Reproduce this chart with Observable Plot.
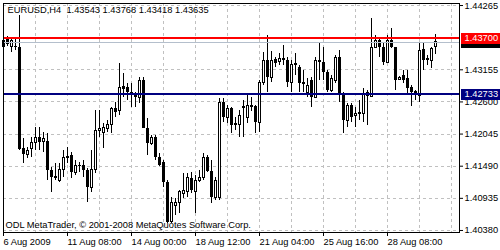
<!DOCTYPE html>
<html>
<head>
<meta charset="utf-8">
<script src="https://cdn.jsdelivr.net/npm/d3@7"></script>
<script src="https://cdn.jsdelivr.net/npm/@observablehq/plot@0.6"></script>
<style>
  html, body { margin: 0; padding: 0; background: #ffffff; }
  #chart { width: 500px; height: 250px; }
</style>
</head>
<body>
<div id="chart"></div>
<script>
// ---- data (EURUSD, H4) ----
const symbolText = "EURUSD,H4";
const lastBar = [1.43543, 1.43768, 1.43418, 1.43635]; // O H L C shown in header
const opens = [
  1.43557,1.43678,1.43557,1.43557,1.43539,1.41795,1.41675,1.41795,1.41899,1.41985,
  1.41916,1.41916,1.41416,1.41312,1.41243,1.41416,1.41640,1.41675,1.41381,1.41485,
  1.41502,1.41416,1.41122,1.41416,1.42106,1.42072,1.42141,1.42193,1.42486,1.42452,
  1.42866,1.42849,1.42762,1.42728,1.42676,1.42970,1.42141,1.41882,1.41985,1.41640,
  1.41554,1.41208,1.40518,1.40811,1.40846,1.41018,1.41036,1.41278,1.41036,1.41243,
  1.41278,1.41640,1.41398,1.40949,1.40949,1.42590,1.42331,1.42486,1.42227,1.42193,
  1.42521,1.42331,1.42538,1.42521,1.42244,1.42935,1.43315,1.43021,1.43332,1.43298,
  1.43350,1.43315,1.42935,1.43263,1.43194,1.42935,1.42762,1.42970,1.42676,1.43315,
  1.43280,1.43108,1.42797,1.42970,1.43367,1.42745,1.42279,1.42538,1.42365,1.42417,
  1.42400,1.42762,1.42693,1.43539,1.43660,1.43539,1.43280,1.43660,1.43539,1.42987,
  1.43056,1.43004,1.42849,1.42780,1.42711,1.43505,1.43350,1.43315,1.43543
];
const highs = [
  1.43712,1.43729,1.43712,1.43695,1.44092,1.41968,1.41813,1.41985,1.42158,1.42158,
  1.42072,1.42055,1.41467,1.41536,1.41536,1.41761,1.41813,1.41726,1.41588,1.41554,
  1.41588,1.41450,1.41761,1.42452,1.42452,1.42227,1.42279,1.42503,1.42590,1.43263,
  1.43090,1.42918,1.42918,1.42762,1.43021,1.43021,1.42313,1.42020,1.42020,1.41709,
  1.41588,1.41243,1.40949,1.40932,1.41070,1.41364,1.41364,1.41381,1.41329,1.41416,
  1.41709,1.41675,1.41588,1.41295,1.42659,1.42659,1.42538,1.42503,1.42331,1.42452,
  1.42624,1.42711,1.42676,1.42538,1.42970,1.43453,1.43747,1.43470,1.43367,1.43436,
  1.43574,1.43367,1.43315,1.43436,1.43229,1.43142,1.43004,1.43021,1.43367,1.43609,
  1.43539,1.43142,1.43056,1.43401,1.43488,1.42762,1.42572,1.42572,1.42503,1.42624,
  1.42832,1.42797,1.44040,1.43747,1.43712,1.43609,1.43747,1.43868,1.43539,1.43039,
  1.43142,1.43142,1.42883,1.42797,1.43626,1.43626,1.43401,1.43539,1.43768
];
const lows = [
  1.43367,1.43557,1.43453,1.43488,1.41761,1.41536,1.41623,1.41640,1.41761,1.41761,
  1.41726,1.41243,1.41036,1.41243,1.41208,1.41295,1.41536,1.41278,1.41329,1.41381,
  1.41295,1.40863,1.41036,1.41364,1.41985,1.41795,1.42072,1.42055,1.42331,1.42365,
  1.42676,1.42624,1.42503,1.42503,1.42572,1.42141,1.41675,1.41847,1.41588,1.41485,
  1.41122,1.40500,1.40500,1.40639,1.40673,1.40932,1.40949,1.41018,1.40673,1.41208,
  1.41243,1.41381,1.40846,1.40898,1.40898,1.42244,1.42227,1.42055,1.42106,1.41985,
  1.41985,1.42227,1.42434,1.42055,1.42072,1.42883,1.42762,1.42935,1.43194,1.43229,
  1.43229,1.42849,1.42762,1.43056,1.42762,1.42762,1.42676,1.42503,1.42676,1.42970,
  1.42970,1.42762,1.42762,1.42918,1.42590,1.42055,1.42158,1.42244,1.42158,1.42279,
  1.42244,1.42193,1.42676,1.43522,1.43367,1.43229,1.43263,1.43522,1.42797,1.42970,
  1.42918,1.42745,1.42521,1.42624,1.42590,1.43142,1.43229,1.43177,1.43418
];
const closes = [
  1.43660,1.43591,1.43660,1.43539,1.41778,1.41692,1.41761,1.41899,1.41985,1.41899,
  1.41968,1.41416,1.41295,1.41278,1.41416,1.41640,1.41657,1.41381,1.41502,1.41502,
  1.41416,1.41122,1.41416,1.42106,1.42141,1.42158,1.42193,1.42486,1.42417,1.42849,
  1.42814,1.42762,1.42711,1.42676,1.42970,1.42141,1.41882,1.41985,1.41640,1.41502,
  1.41208,1.40518,1.40863,1.40863,1.41036,1.41070,1.41278,1.41070,1.41243,1.41278,
  1.41640,1.41398,1.40949,1.41243,1.42590,1.42331,1.42486,1.42193,1.42193,1.42365,
  1.42486,1.42538,1.42503,1.42244,1.42935,1.43315,1.43021,1.43315,1.43263,1.43350,
  1.43315,1.42935,1.43246,1.43229,1.42918,1.42901,1.42883,1.42676,1.43315,1.43280,
  1.43108,1.42797,1.43004,1.43367,1.42745,1.42279,1.42538,1.42331,1.42400,1.42383,
  1.42745,1.42693,1.43539,1.43660,1.43539,1.43280,1.43660,1.43539,1.42970,1.43021,
  1.42970,1.42832,1.42762,1.42711,1.43488,1.43315,1.43315,1.43522,1.43635
];
const timeTickBars = [0, 16, 32, 48, 64, 80, 96];
const timeTickLabels = ["6 Aug 2009", "11 Aug 08:00", "14 Aug 00:00", "18 Aug 12:00", "21 Aug 04:00", "25 Aug 16:00", "28 Aug 08:00"];
const priceTicks = [1.44265, 1.43155, 1.42600, 1.42045, 1.41490, 1.40935, 1.40380];
const priceGrid = [1.44265, 1.43710, 1.43155, 1.42600, 1.42045, 1.41490, 1.40935, 1.40380];
const timeGridBars = [8, 16, 24, 32, 40, 48, 56, 64, 72, 80, 88, 96, 104, 112];
const redLevel = 1.43700;
const blueLevel = 1.42733;
const bidPrice = 1.43635;
const copyright = "ODL MetaTrader, \u00a9 2001-2008 MetaQuotes Software Corp.";

// ---- build table ----
const bars = opens.map((o, i) => ({i, open: o, high: highs[i], low: lows[i], close: closes[i]}));
const upBars = bars.filter(d => d.close >= d.open);
const downBars = bars.filter(d => d.close < d.open);
const header = symbolText + "\u00a0\u00a0" + lastBar.map(v => v.toFixed(5)).join(" ");
const crisp = {shapeRendering: "crispEdges"};

const chart = Plot.plot({
  width: 500,
  height: 250,
  marginLeft: 3,
  marginRight: 41,
  marginTop: 3,
  marginBottom: 18,
  style: {fontFamily: "'Liberation Sans', Arial, sans-serif", fontSize: "9.3px", color: "black", background: "white"},
  x: {domain: [0, 114], axis: null, label: null},
  y: {domain: [1.40345, 1.44300], axis: null, label: null},
  marks: [
    Plot.gridY(priceGrid, {stroke: "#c0c0c0", strokeOpacity: 1, strokeDasharray: "3,3", ...crisp}),
    Plot.gridX(timeGridBars, {stroke: "#c0c0c0", strokeOpacity: 1, strokeDasharray: "3,3", ...crisp}),
    // wicks
    Plot.ruleX(bars, {x: "i", y1: "low", y2: "high", stroke: "black", strokeWidth: 1, ...crisp}),
    // bearish bodies
    Plot.ruleX(downBars, {x: "i", y1: "open", y2: "close", stroke: "black", strokeWidth: 3, ...crisp}),
    // bullish bodies
    Plot.rect(upBars, {x1: d => d.i - 0.25, x2: d => d.i + 0.25, y1: "open", y2: "close", fill: "white", stroke: "black", strokeWidth: 1, ...crisp}),
    // price lines
    Plot.ruleY([bidPrice], {stroke: "#b4bfcc", strokeWidth: 1, ...crisp}),
    Plot.ruleY([redLevel], {stroke: "#ff0000", strokeWidth: 2, ...crisp}),
    Plot.ruleY([blueLevel], {stroke: "#000080", strokeWidth: 2, ...crisp}),
    // texts in the chart
    Plot.text([header], {frameAnchor: "top-left", dx: 4, dy: 3, textAnchor: "start", lineAnchor: "top", fill: "black"}),
    Plot.text([copyright], {frameAnchor: "bottom-left", dx: 2, dy: -5, textAnchor: "start", lineAnchor: "bottom", fill: "black"}),
    Plot.frame({stroke: "black", ...crisp}),
    // axes
    Plot.axisY(priceTicks, {anchor: "right", label: null, tickSize: 3, tickPadding: 2, tickFormat: d => d.toFixed(5), fill: "black", stroke: "black"}),
    Plot.axisX(timeTickBars, {anchor: "bottom", label: null, tickSize: 4, tickPadding: 2, tickFormat: d => timeTickLabels[timeTickBars.indexOf(d)], textAnchor: "start", fill: "black", stroke: "black"}),
    // price labels on the right
    Plot.ruleY([bidPrice], {stroke: "black", strokeWidth: 11, insetLeft: 458, insetRight: -41, ...crisp}),
    Plot.ruleY([redLevel], {stroke: "#ff0000", strokeWidth: 11, insetLeft: 458, insetRight: -41, ...crisp}),
    Plot.ruleY([blueLevel], {stroke: "#000080", strokeWidth: 11, insetLeft: 458, insetRight: -41, ...crisp}),
    Plot.text([redLevel, blueLevel], {y: d => d, text: d => d.toFixed(5), frameAnchor: "right", dx: 5, textAnchor: "start", fill: "white"})
  ]
});
document.getElementById("chart").appendChild(chart);
</script>
</body>
</html>
